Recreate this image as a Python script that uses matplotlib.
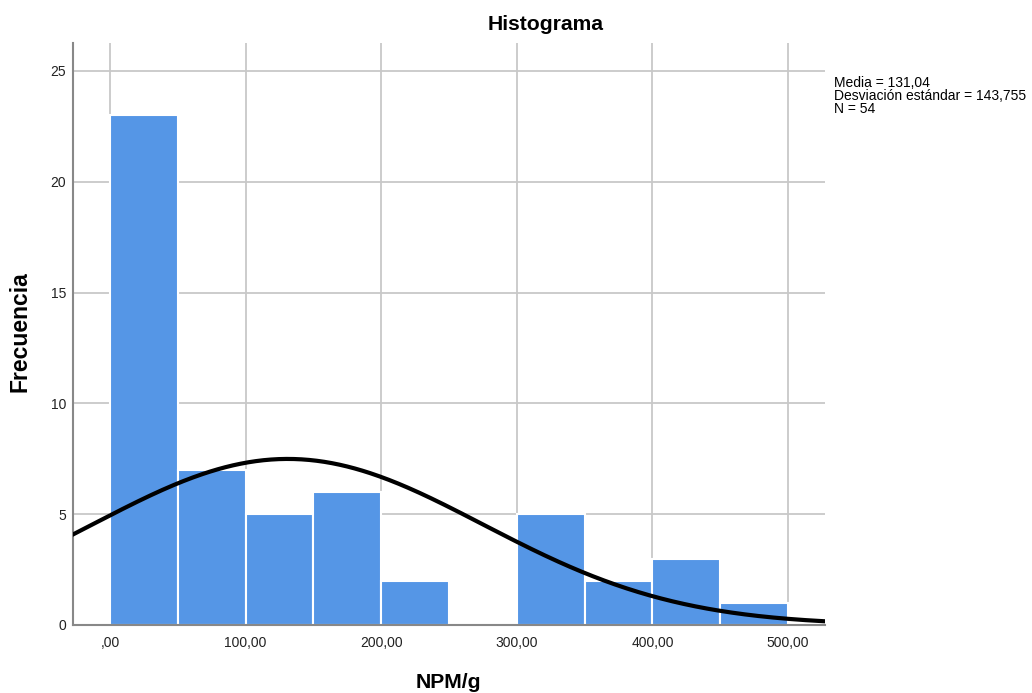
import matplotlib
matplotlib.use("Agg")
import matplotlib.pyplot as plt
import numpy as np

# Datos del histograma (intervalos de 50)
bin_edges = [0, 50, 100, 150, 200, 250, 300, 350, 400, 450, 500]
counts = [23, 7, 5, 6, 2, 0, 5, 2, 3, 1]
media = 131.04
desv = 143.755
n = 54

x_ticks = [0, 100, 200, 300, 400, 500]
x_labels = [",00", "100,00", "200,00", "300,00", "400,00", "500,00"]
y_ticks = [0, 5, 10, 15, 20, 25]


def main():
    plt.rcParams["font.family"] = ["Liberation Sans", "DejaVu Sans"]
    fig = plt.figure(figsize=(10.32, 6.93), dpi=100)
    ax = fig.add_axes([73 / 1032, 1 - 625 / 693, (825 - 73) / 1032, (625 - 43) / 693])

    ax.grid(True, color="#c8c8c8", linewidth=1.3, zorder=0)
    ax.set_axisbelow(True)

    lefts = bin_edges[:-1]
    widths = np.diff(bin_edges)
    ax.bar(lefts, counts, width=widths, align="edge", color="#5596e6",
           edgecolor="white", linewidth=1.5, zorder=2)

    # Curva normal con la media y desviación estándar
    xs = np.linspace(-30, 530, 400)
    ys = n * 50 * np.exp(-0.5 * ((xs - media) / desv) ** 2) / (desv * np.sqrt(2 * np.pi))
    ax.plot(xs, ys, color="black", linewidth=3, zorder=3)

    ax.set_xlim(-27.3, 527.3)
    ax.set_ylim(0, 26.26)
    ax.set_xticks(x_ticks)
    ax.set_xticklabels(x_labels)
    ax.set_yticks(y_ticks)
    ax.tick_params(length=0, labelsize=10, colors="#222222")
    ax.tick_params(axis="x", pad=8)
    ax.tick_params(axis="y", pad=5)

    for side in ["top", "right"]:
        ax.spines[side].set_visible(False)
    for side in ["left", "bottom"]:
        ax.spines[side].set_color("#888888")
        ax.spines[side].set_linewidth(1.5)

    fig.text(546 / 1032, 1 - 25 / 693, "Histograma", ha="center", va="center",
             fontsize=15.2, fontweight="bold")
    fig.text(20 / 1032, 1 - 332 / 693, "Frecuencia", ha="center", va="center",
             rotation=90, fontsize=16.5, fontweight="bold")
    fig.text(448 / 1032, 1 - 683 / 693, "NPM/g", ha="center", va="center",
             fontsize=15.2, fontweight="bold")
    fig.text(834 / 1032, 1 - 76 / 693,
             "Media = 131,04\nDesviación estándar = 143,755\nN = 54",
             ha="left", va="top", fontsize=10, linespacing=0.9)

    fig.savefig("out.png", dpi=100)
    plt.close(fig)


if __name__ == "__main__":
    main()
